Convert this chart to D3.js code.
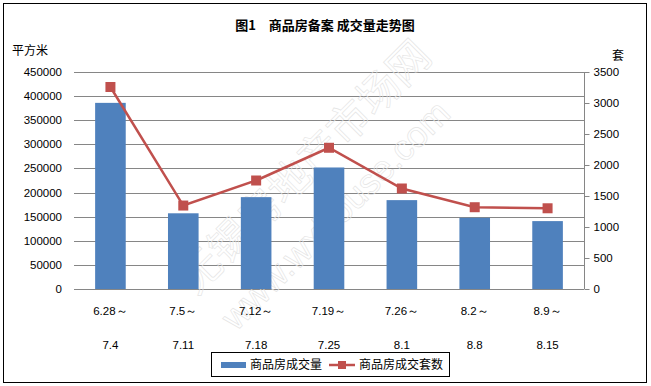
<!DOCTYPE html>
<html>
<head>
<meta charset="utf-8">
<script src="https://cdn.jsdelivr.net/npm/d3@7"></script>
<style>
  body { margin: 0; background: #fff; }
  text { font-family: "Liberation Sans", Arial, sans-serif; }
  .cjk { font-family: "Noto Sans CJK SC", sans-serif; }
</style>
</head>
<body>
<div id="chart"></div>
<script>
// week ranges (two-line labels)
var weekStart = ["6.28～", "7.5～", "7.12～", "7.19～", "7.26～", "8.2～", "8.9～"];
var weekEnd = ["7.4", "7.11", "7.18", "7.25", "8.1", "8.8", "8.15"];
// 商品房成交量 (平方米)
var areaSold = [386000, 157000, 190500, 252000, 184300, 147700, 140800];
// 商品房成交套数 (套)
var unitsSold = [3258, 1346, 1750, 2278, 1621, 1319, 1302];

var leftTicks = d3.range(0, 450001, 50000);
var rightTicks = d3.range(0, 3501, 500);

var width = 651, height = 386;
var margin = {top: 72, right: 67, bottom: 97, left: 74};

var svg = d3.select('#chart').append('svg')
  .attr('width', width)
  .attr('height', height);

// outer frame
svg.append('rect')
  .attr('x', 3.5).attr('y', 3.5)
  .attr('width', 643).attr('height', 379)
  .attr('fill', '#fff').attr('stroke', '#000').attr('stroke-width', 1);

var x = d3.scaleBand()
  .domain(d3.range(weekStart.length))
  .range([margin.left, width - margin.right])
  .paddingInner(0.58).paddingOuter(0.29);

var yL = d3.scaleLinear().domain([0, 450000]).range([height - margin.bottom, margin.top]);
var yR = d3.scaleLinear().domain([0, 3500]).range([height - margin.bottom, margin.top]);

// gridlines
svg.append('g')
  .selectAll('line')
  .data(leftTicks)
  .enter().append('line')
    .attr('x1', margin.left)
    .attr('x2', width - margin.right)
    .attr('y1', function(d) { return Math.round(yL(d)) + 0.5; })
    .attr('y2', function(d) { return Math.round(yL(d)) + 0.5; })
    .attr('stroke', '#868686')
    .attr('stroke-width', 1);

// watermark (faint outlined text)
var wm = svg.append('g').attr('fill', 'none').attr('stroke', '#e3e3e3').attr('stroke-width', 0.6);
wm.append('text').attr('class', 'cjk')
  .attr('transform', 'translate(196,296) rotate(-45)')
  .attr('font-size', 42)
  .text('无锡房地产市场网');
wm.append('text')
  .attr('transform', 'translate(236,332) rotate(-45)')
  .attr('font-size', 36)
  .text('www.wxhouse.com');

// bars
svg.append('g')
  .selectAll('rect')
  .data(areaSold)
  .enter().append('rect')
    .attr('x', function(d, i) { return x(i); })
    .attr('y', function(d) { return yL(d); })
    .attr('width', x.bandwidth())
    .attr('height', function(d) { return yL(0) - yL(d); })
    .attr('fill', '#4F81BD');

// line + markers
var line = d3.line()
  .x(function(d, i) { return x(i) + x.bandwidth() / 2; })
  .y(function(d) { return yR(d); });

svg.append('path')
  .datum(unitsSold)
  .attr('d', line)
  .attr('fill', 'none')
  .attr('stroke', '#C0504D')
  .attr('stroke-width', 2.5);

svg.append('g')
  .selectAll('rect')
  .data(unitsSold)
  .enter().append('rect')
    .attr('x', function(d, i) { return x(i) + x.bandwidth() / 2 - 5; })
    .attr('y', function(d) { return yR(d) - 5; })
    .attr('width', 10)
    .attr('height', 10)
    .attr('fill', '#C0504D');

// left axis labels
svg.append('g')
  .selectAll('text')
  .data(leftTicks)
  .enter().append('text')
    .attr('x', 62)
    .attr('y', function(d) { return yL(d) + 4; })
    .attr('text-anchor', 'end')
    .attr('font-size', 11.5)
    .attr('fill', '#000')
    .text(function(d) { return d; });

// right axis
var rightAxis = d3.axisRight(yR).tickValues(rightTicks).tickFormat(d3.format('d')).tickSize(5).tickPadding(4);
var ra = svg.append('g')
  .attr('transform', 'translate(' + (width - margin.right + 0.5) + ',0)')
  .call(rightAxis);
ra.select('.domain').attr('stroke', '#868686').attr('d', 'M0,' + yR(3500) + 'V' + yR(0));
ra.selectAll('.tick line').attr('stroke', '#868686');
ra.selectAll('.tick text')
  .attr('font-family', '"Liberation Sans", Arial, sans-serif')
  .attr('font-size', 11.5)
  .attr('fill', '#000');

// x labels
var xl = svg.append('g')
  .selectAll('g')
  .data(weekStart)
  .enter().append('g');
xl.append('text')
  .attr('x', function(d, i) { return x(i) + x.bandwidth() / 2; })
  .attr('y', 315)
  .attr('text-anchor', 'middle')
  .attr('font-size', 11.5)
  .text(function(d) { return d; });
xl.append('text')
  .attr('x', function(d, i) { return x(i) + x.bandwidth() / 2; })
  .attr('y', 349)
  .attr('text-anchor', 'middle')
  .attr('font-size', 11.5)
  .text(function(d, i) { return weekEnd[i]; });

// title and axis units
svg.append('text').attr('class', 'cjk')
  .attr('x', 325).attr('y', 30)
  .attr('text-anchor', 'middle')
  .attr('font-size', 13)
  .attr('font-weight', 'bold')
  .text('图1　商品房备案 成交量走势图');
svg.append('text').attr('class', 'cjk')
  .attr('x', 12).attr('y', 55)
  .attr('font-size', 12)
  .text('平方米');
svg.append('text').attr('class', 'cjk')
  .attr('x', 612).attr('y', 60)
  .attr('font-size', 12)
  .text('套');

// legend
var lg = svg.append('g').attr('transform', 'translate(211,352)');
lg.append('rect')
  .attr('x', 0.5).attr('y', 0.5)
  .attr('width', 238).attr('height', 24)
  .attr('fill', '#fff').attr('stroke', '#000');
lg.append('rect')
  .attr('x', 10).attr('y', 10)
  .attr('width', 25).attr('height', 6)
  .attr('fill', '#4F81BD');
lg.append('text').attr('class', 'cjk')
  .attr('x', 39).attr('y', 17)
  .attr('font-size', 12)
  .text('商品房成交量');
lg.append('line')
  .attr('x1', 118).attr('x2', 144)
  .attr('y1', 13).attr('y2', 13)
  .attr('stroke', '#C0504D').attr('stroke-width', 2.5);
lg.append('rect')
  .attr('x', 127).attr('y', 9)
  .attr('width', 8).attr('height', 8)
  .attr('fill', '#C0504D');
lg.append('text').attr('class', 'cjk')
  .attr('x', 148).attr('y', 17)
  .attr('font-size', 12)
  .text('商品房成交套数');
</script>
</body>
</html>
